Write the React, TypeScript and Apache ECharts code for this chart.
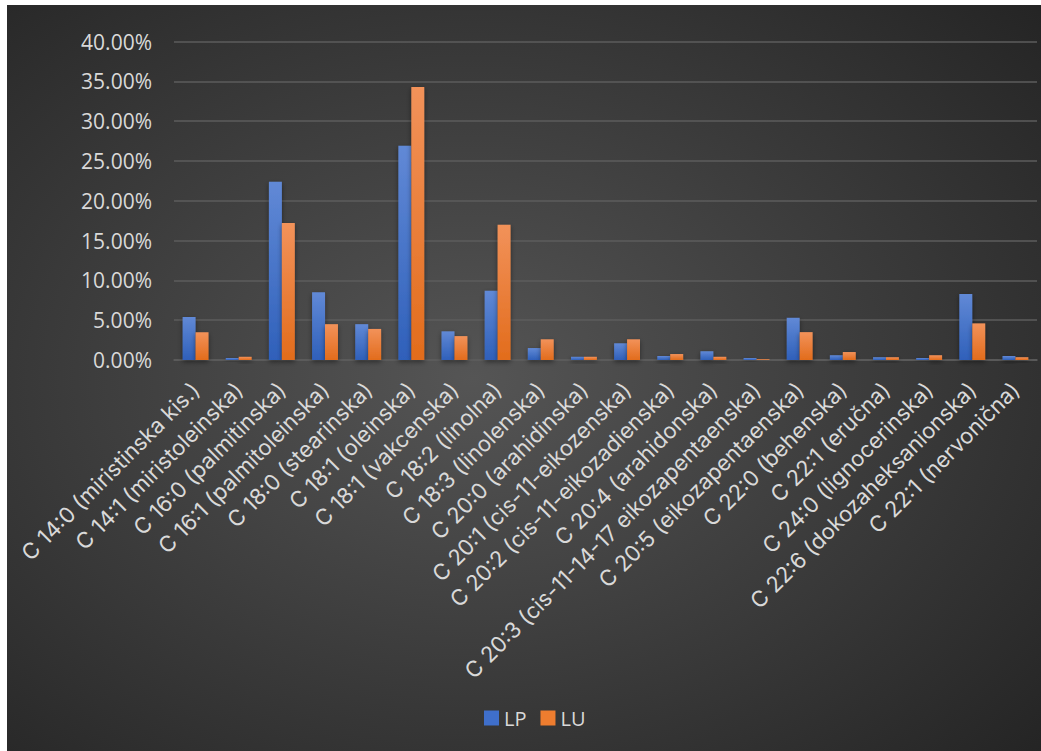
import React, { useEffect, useRef } from "react";
import * as echarts from "echarts";

const categories = [
  "C 14:0 (miristinska kis.)",
  "C 14:1 (miristoleinska)",
  "C 16:0 (palmitinska)",
  "C 16:1 (palmitoleinska)",
  "C 18:0 (stearinska)",
  "C 18:1 (oleinska)",
  "C 18:1 (vakcenska)",
  "C 18:2 (linolna)",
  "C 18:3 (linolenska)",
  "C 20:0 (arahidinska)",
  "C 20:1 (cis-11-eikozenska)",
  "C 20:2 (cis-11-eikozadienska)",
  "C 20:4 (arahidonska)",
  "C 20:3 (cis-11-14-17 eikozapentaenska)",
  "C 20:5 (eikozapentaenska)",
  "C 22:0 (behenska)",
  "C 22:1 (eručna)",
  "C 24:0 (lignocerinska)",
  "C 22:6 (dokozaheksanionska)",
  "C 22:1 (nervonična)",
];

const lpValues = [5.4, 0.25, 22.4, 8.5, 4.5, 26.9, 3.6, 8.7, 1.5, 0.4, 2.1, 0.5, 1.1, 0.25, 5.3, 0.6, 0.35, 0.25, 8.3, 0.5];
const luValues = [3.5, 0.4, 17.2, 4.5, 3.9, 34.3, 3.0, 17.0, 2.6, 0.4, 2.6, 0.75, 0.4, 0.1, 3.5, 1.0, 0.35, 0.6, 4.6, 0.35];

const seriesNames = ["LP", "LU"];
const yMin = 0;
const yMax = 40;
const yInterval = 5;

export default function App() {
  const ref = useRef<HTMLDivElement>(null);

  useEffect(() => {
    if (!ref.current) return;
    const chart = echarts.init(ref.current, undefined, { renderer: "svg" });
    const lpGrad = new echarts.graphic.LinearGradient(0, 0, 0, 1, [
      { offset: 0, color: "#6189d6" },
      { offset: 1, color: "#2f60ba" },
    ]);
    const luGrad = new echarts.graphic.LinearGradient(0, 0, 0, 1, [
      { offset: 0, color: "#f2925a" },
      { offset: 1, color: "#e26c1c" },
    ]);
    chart.setOption({
      animation: false,
      backgroundColor: {
        type: "radial",
        x: 0.45,
        y: 0.5,
        r: 0.75,
        colorStops: [
          { offset: 0, color: "#555555" },
          { offset: 1, color: "#242424" },
        ],
      },
      legend: {
        data: [
          { name: seriesNames[0], itemStyle: { color: "#3f6fcb" } },
          { name: seriesNames[1], itemStyle: { color: "#ee7d2f" } },
        ],
        top: 698,
        left: 472,
        itemWidth: 15,
        itemHeight: 15,
        itemGap: 14,
        icon: "rect",
        textStyle: { color: "#d9d9d9", fontSize: 20, fontFamily: "Open Sans" },
      },
      grid: { left: 167, right: 4, top: 36.5, bottom: 391, containLabel: false },
      xAxis: {
        type: "category",
        data: categories,
        axisLine: { show: true, lineStyle: { color: "#5c5c5c", width: 1.5 } },
        axisTick: { show: false },
        axisLabel: {
          interval: 0,
          rotate: 45,
          color: "#d9d9d9",
          fontSize: 22,
          fontFamily: "Inter",
          margin: 26,
        },
      },
      yAxis: {
        type: "value",
        min: yMin,
        max: yMax,
        interval: yInterval,
        axisLine: { show: false },
        axisTick: { show: false },
        splitLine: { lineStyle: { color: "#5c5c5c", width: 1.5 } },
        axisLabel: {
          color: "#d9d9d9",
          fontSize: 21,
          fontFamily: "Open Sans",
          margin: 22,
          formatter: (v: number) => v.toFixed(2) + "%",
        },
      },
      series: [
        {
          name: seriesNames[0],
          type: "bar",
          data: lpValues,
          barGap: "0%",
          barCategoryGap: "40%",
          itemStyle: {
            color: lpGrad,
            shadowBlur: 5,
            shadowColor: "rgba(0,0,0,0.45)",
            shadowOffsetY: 2,
          },
        },
        {
          name: seriesNames[1],
          type: "bar",
          data: luValues,
          barGap: "0%",
          barCategoryGap: "40%",
          itemStyle: {
            color: luGrad,
            shadowBlur: 5,
            shadowColor: "rgba(0,0,0,0.45)",
            shadowOffsetY: 2,
          },
        },
      ],
    });
    return () => chart.dispose();
  }, []);

  return (
    <div
      ref={ref}
      style={{ position: "absolute", left: 7, top: 5, width: 1034, height: 746 }}
    />
  );
}
